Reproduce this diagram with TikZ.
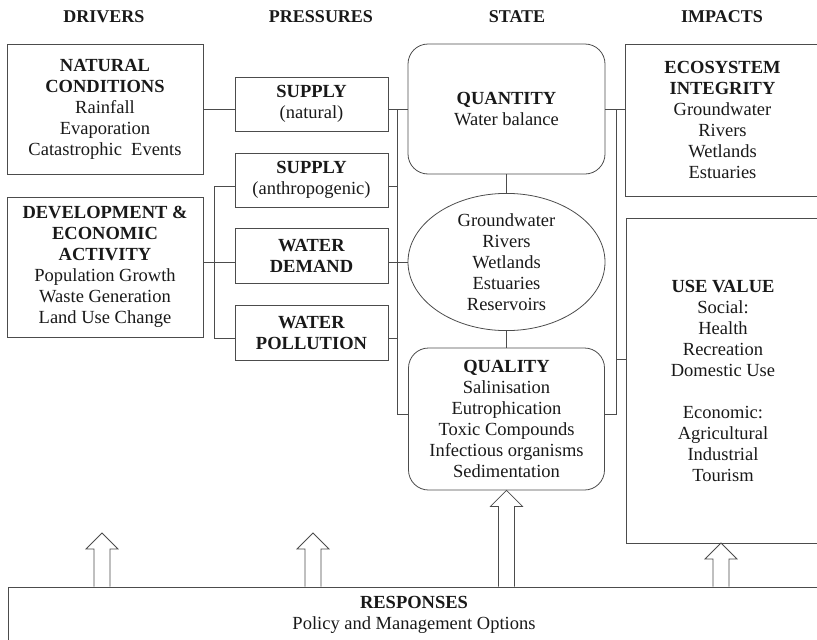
\documentclass[tikz,border=0pt]{standalone}
\usepackage{fontspec}
\setmainfont{Liberation Serif}
\usetikzlibrary{shapes.geometric,calc}
\newcommand\blockarrow[2]{%
  \draw[blk] let \p1=(#1), \p2=(#2) in
    (\x1-8pt,\y1) -- (\x1-8pt,\y2-16pt) -- (\x1-16pt,\y2-16pt) -- (\x1,\y2)
    -- (\x1+16pt,\y2-16pt) -- (\x1+8pt,\y2-16pt) -- (\x1+8pt,\y1);}
\begin{document}
\begin{tikzpicture}[x=1pt,y=-1pt,
  line/.style={draw=black!70, line width=0.8pt},
  txt/.style={font=\fontsize{18.5}{21}\selectfont, text=black!90},
  box/.style={line, txt, rectangle, inner sep=0pt, align=center},
  rbox/.style={box, rounded corners=20pt},
  hdr/.style={txt, font=\fontsize{18}{21}\selectfont\bfseries},
  blk/.style={line, fill=white, line join=miter}]
\clip (0,0) rectangle (817,640);
% headers
\node[hdr] (hdrv) at (104,17) {DRIVERS};
\node[hdr] (hpre) at (321,17) {PRESSURES};
\node[hdr] (hsta) at (517,17) {STATE};
\node[hdr] (himp) at (722,17) {IMPACTS};
% drivers
\node[box, minimum width=196pt, minimum height=130pt] (nat) at (105,109)
  {\textbf{NATURAL}\\\textbf{CONDITIONS}\\Rainfall\\Evaporation\\Catastrophic\ \ Events};
\node[box, minimum width=196pt, minimum height=140pt] (dev) at (105,267)
  {\textbf{DEVELOPMENT \&}\\\textbf{ECONOMIC}\\\textbf{ACTIVITY}\\Population Growth\\Waste Generation\\Land Use Change};
% pressures
\node[box, minimum width=153pt, minimum height=54pt] (snat) at (311.5,104)
  {\textbf{SUPPLY}\\(natural)};
\node[box, minimum width=153pt, minimum height=54pt] (santh) at (311.5,180)
  {\textbf{SUPPLY}\\(anthropogenic)};
\node[box, minimum width=153pt, minimum height=55pt] (dem) at (311.5,255.5)
  {\textbf{WATER}\\\textbf{DEMAND}};
\node[box, minimum width=153pt, minimum height=55pt] (pol) at (311.5,332.5)
  {\textbf{WATER}\\\textbf{POLLUTION}};
% state
\node[rbox, minimum width=197pt, minimum height=130pt] (quan) at (506.5,109)
  {\textbf{QUANTITY}\\Water balance};
\node[box, ellipse, minimum width=197pt, minimum height=130pt] (ell) at (506.5,262)
  {Groundwater\\Rivers\\Wetlands\\Estuaries\\Reservoirs};
\node[rbox, minimum width=196pt, minimum height=142pt] (qual) at (506.5,419)
  {\textbf{QUALITY}\\Salinisation\\Eutrophication\\Toxic Compounds\\Infectious organisms\\Sedimentation};
% impacts
\node[box, minimum width=195pt, minimum height=152pt] (eco) at (722.5,120)
  {\textbf{ECOSYSTEM}\\\textbf{INTEGRITY}\\Groundwater\\Rivers\\Wetlands\\Estuaries};
\node[box, minimum width=194pt, minimum height=325pt] (use) at (723,380.5)
  {\textbf{USE VALUE}\\Social:\\Health\\Recreation\\Domestic Use\\[21pt]Economic:\\Agricultural\\Industrial\\Tourism};
% responses
\node[box, minimum width=812pt, minimum height=56pt] (resp) at (414,615)
  {\textbf{RESPONSES}\\Policy and Management Options};
% connectors: drivers -> pressures
\coordinate (lbt) at (214,186);
\coordinate (lbm) at (214,262);
\coordinate (lbb) at (214,338);
\draw[line] (nat.east) -- (nat.east -| snat.west);
\draw[line] (santh.west |- lbt) -- (lbt) -- (lbb) -- (pol.west |- lbb);
\draw[line] (dev.east |- lbm) -- (dem.west |- lbm);
% pressures -> state
\coordinate (rbt) at (397,109);
\coordinate (rbb) at (397,414);
\draw[line] (snat.east |- rbt) -- (quan.west |- rbt);
\draw[line] (rbt) -- (rbb) -- (qual.west |- rbb);
\draw[line] (santh.east |- lbt) -- (lbt -| rbt);
\draw[line] (dem.east |- lbm) -- (ell.west |- lbm);
\draw[line] (pol.east |- lbb) -- (lbb -| rbt);
\draw[line] (quan.south) -- (ell.north);
\draw[line] (ell.south) -- (qual.north);
% state -> impacts
\coordinate (ibt) at (616,109);
\coordinate (ibm) at (616,359);
\coordinate (ibb) at (616,414);
\draw[line] (quan.east |- ibt) -- (eco.west |- ibt);
\draw[line] (ibt) -- (ibb) -- (qual.east |- ibb);
\draw[line] (ibm) -- (use.west |- ibm);
% response arrows
\coordinate (a1t) at (102,533);
\coordinate (a2t) at (313,533);
\coordinate (a4t) at (721,543);
\blockarrow{resp.north -| a1t}{a1t}
\blockarrow{resp.north -| a2t}{a2t}
\blockarrow{resp.north -| qual.south}{qual.south}
\blockarrow{resp.north -| a4t}{a4t}
\end{tikzpicture}
\end{document}
